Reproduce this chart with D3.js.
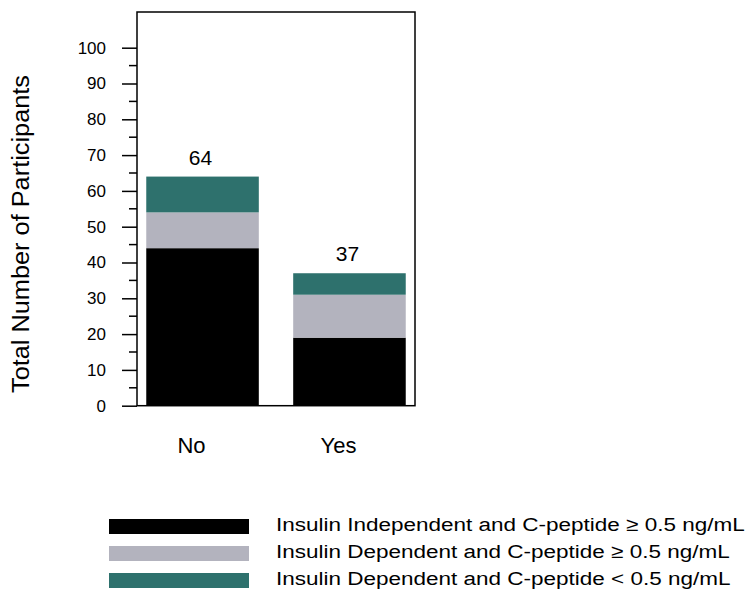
<!DOCTYPE html>
<html>
<head>
<meta charset="utf-8">
<script src="https://cdn.jsdelivr.net/npm/d3@7"></script>
<style>
  body { margin: 0; background: #fff; }
  svg { display: block; font-family: "Liberation Sans", Arial, sans-serif; }
</style>
</head>
<body>
<script>
// data
var categories = ["No", "Yes"];
var seriesNames = [
  "Insulin Independent and C-peptide \u2265 0.5 ng/mL",
  "Insulin Dependent and C-peptide \u2265 0.5 ng/mL",
  "Insulin Dependent and C-peptide < 0.5 ng/mL"
];
var independentHigh = [44, 19];
var dependentHigh = [10, 12];
var dependentLow = [10, 6];
var totals = [64, 37];
var yTicks = [0, 10, 20, 30, 40, 50, 60, 70, 80, 90, 100];
var yMinorTicks = [5, 15, 25, 35, 45, 55, 65, 75, 85, 95];
var colors = ["#000000", "#b3b3be", "#2e716d"];

var W = 752, H = 593;
var svg = d3.select("body").append("svg")
  .attr("width", W)
  .attr("height", H);

// plot frame
var plotLeft = 137, plotRight = 415, plotTop = 12, plotBottom = 405.7;

var y = d3.scaleLinear()
  .domain([0, 100])
  .range([plotBottom, 47.7]);

var x = d3.scaleBand()
  .domain(categories)
  .range([plotLeft, plotRight])
  .paddingInner(0.234)
  .paddingOuter(0.063);

// stacked data
var rows = categories.map(function(c, i) {
  return { cat: c, s0: independentHigh[i], s1: dependentHigh[i], s2: dependentLow[i] };
});
var layers = d3.stack().keys(["s0", "s1", "s2"])(rows);

svg.selectAll("g.layer")
  .data(layers)
  .enter()
  .append("g")
    .attr("class", "layer")
    .attr("fill", function(d, i) { return colors[i]; })
  .selectAll("rect")
  .data(function(d) { return d; })
  .enter()
  .append("rect")
    .attr("x", function(d) { return x(d.data.cat); })
    .attr("width", x.bandwidth())
    .attr("y", function(d) { return y(d[1]); })
    .attr("height", function(d) { return y(d[0]) - y(d[1]); });

// frame
svg.append("rect")
  .attr("x", plotLeft)
  .attr("y", plotTop)
  .attr("width", plotRight - plotLeft)
  .attr("height", plotBottom - plotTop)
  .attr("fill", "none")
  .attr("stroke", "#000")
  .attr("stroke-width", 1.5);

// y axis
var gy = svg.append("g")
  .attr("transform", "translate(" + plotLeft + ",0)")
  .call(d3.axisLeft(y).tickValues(yTicks).tickSize(15).tickPadding(16));
gy.attr("font-family", null).attr("font-size", null);
gy.select(".domain").remove();
gy.selectAll(".tick line").attr("stroke-width", 1.5);
gy.selectAll("text")
  .style("font-size", "17px")
  .attr("fill", "#000");

// minor ticks
svg.append("g")
  .selectAll("line")
  .data(yMinorTicks)
  .enter()
  .append("line")
    .attr("x1", plotLeft - 8)
    .attr("x2", plotLeft)
    .attr("y1", function(d) { return y(d); })
    .attr("y2", function(d) { return y(d); })
    .attr("stroke", "#000")
    .attr("stroke-width", 1.5);

// total labels
svg.selectAll("text.total")
  .data(categories)
  .enter()
  .append("text")
    .attr("class", "total")
    .attr("x", function(d) { return x(d) + x.bandwidth() / 2 - 2; })
    .attr("y", function(d, i) { return y(totals[i]) - 12; })
    .attr("text-anchor", "middle")
    .style("font-size", "21px")
    .text(function(d, i) { return totals[i]; });

// category labels
svg.selectAll("text.cat")
  .data(categories)
  .enter()
  .append("text")
    .attr("class", "cat")
    .attr("x", function(d) { return x(d) + x.bandwidth() / 2 - 11; })
    .attr("y", 453)
    .attr("text-anchor", "middle")
    .style("font-size", "22px")
    .text(function(d) { return d; });

// y title
svg.append("text")
  .attr("transform", "translate(28.5,234) rotate(-90)")
  .attr("text-anchor", "middle")
  .style("font-size", "23px")
  .attr("textLength", 318)
  .attr("lengthAdjust", "spacingAndGlyphs")
  .text("Total Number of Participants");

// legend
var legend = svg.selectAll("g.legend")
  .data(seriesNames)
  .enter()
  .append("g")
    .attr("class", "legend")
    .attr("transform", function(d, i) { return "translate(109," + (526.5 + i * 27) + ")"; });

legend.append("rect")
  .attr("x", 0)
  .attr("y", -7.5)
  .attr("width", 140)
  .attr("height", 15)
  .attr("fill", function(d, i) { return colors[i]; });

var legendText = legend.append("text")
  .attr("x", 0)
  .attr("y", 0)
  .style("font-size", "19px")
  .text(function(d) { return d; });

// the legend lettering is wider than the font; stretch to fit
var stretch = 469 / legendText.node().getComputedTextLength();
legendText.attr("transform", "translate(167,4.5) scale(" + stretch + ",1)");
</script>
</body>
</html>
